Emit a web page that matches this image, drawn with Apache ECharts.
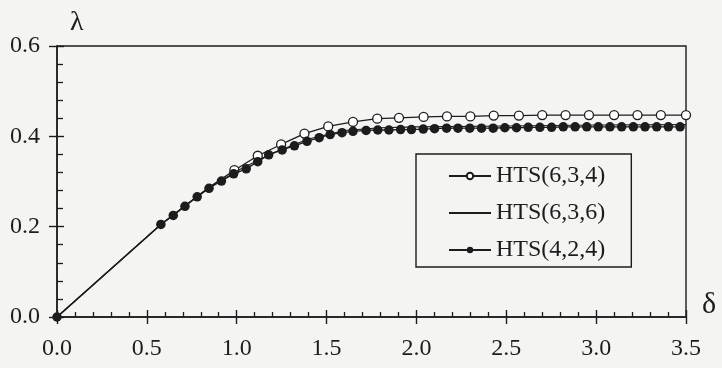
<!DOCTYPE html>
<html>
<head>
<meta charset="utf-8">
<script src="https://cdn.jsdelivr.net/npm/echarts@6/dist/echarts.min.js"></script>
<style>
  html, body { margin: 0; padding: 0; background: #f4f4f3; }
  #chart { width: 722px; height: 368px; }
</style>
</head>
<body>
<div id="chart"></div>
<script>
// ---- data ----
const seriesNames = ['HTS(6,3,4)', 'HTS(6,3,6)', 'HTS(4,2,4)'];

// HTS(6,3,4) — open circles (first points hidden under the filled dots)
const x634 = [0, 0.578, 0.712, 0.846, 0.987, 1.117, 1.247, 1.377, 1.509, 1.647, 1.782, 1.903, 2.04, 2.17, 2.30, 2.43, 2.57, 2.70, 2.83, 2.96, 3.10, 3.23, 3.36, 3.50];
const y634 = [0, 0.205, 0.246, 0.287, 0.325, 0.357, 0.382, 0.406, 0.422, 0.432, 0.439, 0.441, 0.443, 0.444, 0.444, 0.446, 0.446, 0.447, 0.447, 0.447, 0.447, 0.447, 0.447, 0.447];
const hidden634 = [true, true, true, true];

// HTS(6,3,6) — plain line
const x636 = [0, 0.578, 0.85, 1.0, 1.2, 1.4, 1.6, 1.8, 2.0, 2.5, 3.0, 3.5];
const y636 = [0, 0.205, 0.288, 0.323, 0.363, 0.394, 0.413, 0.419, 0.421, 0.423, 0.425, 0.426];

// HTS(4,2,4) — filled dots
const x424 = [0, 0.578, 0.647, 0.712, 0.780, 0.846, 0.915, 0.983, 1.053, 1.117, 1.178, 1.253, 1.321, 1.391, 1.459, 1.520, 1.586, 1.647, 1.720, 1.785, 1.847, 1.912, 1.972, 2.038, 2.101, 2.168, 2.231, 2.297, 2.362, 2.427, 2.492, 2.557, 2.622, 2.687, 2.752, 2.817, 2.883, 2.948, 3.012, 3.077, 3.142, 3.207, 3.272, 3.337, 3.402, 3.467];
const y424 = [0, 0.205, 0.225, 0.245, 0.266, 0.285, 0.301, 0.317, 0.328, 0.344, 0.359, 0.370, 0.379, 0.389, 0.397, 0.404, 0.408, 0.411, 0.413, 0.414, 0.414, 0.415, 0.415, 0.416, 0.417, 0.418, 0.418, 0.418, 0.418, 0.418, 0.419, 0.419, 0.420, 0.420, 0.420, 0.421, 0.421, 0.421, 0.421, 0.421, 0.421, 0.421, 0.421, 0.421, 0.421, 0.421];

const xTickLabels = ['0.0', '0.5', '1.0', '1.5', '2.0', '2.5', '3.0', '3.5'];
const yTickLabels = ['0.0', '0.2', '0.4', '0.6'];
const xName = 'δ';
const yName = 'λ';

// ---- chart ----
const INK = '#1c1c1c';
const FONT = "'Liberation Serif', 'Times New Roman', Times, serif";

function pairs(xs, ys, hidden) {
  return xs.map((x, i) => {
    if (hidden && hidden[i]) return { value: [x, ys[i]], symbol: 'none' };
    return [x, ys[i]];
  });
}

const chart = echarts.init(document.getElementById('chart'), null, { renderer: 'canvas' });

const labelStyle = { color: INK, fontFamily: FONT, fontSize: 24 };
const GRID = { left: 57, right: 36, top: 46, bottom: 51 };
const plotW = 722 - GRID.left - GRID.right;
const plotH = 368 - GRID.top - GRID.bottom;

chart.setOption({
  backgroundColor: '#f4f4f3',
  animation: false,
  grid: Object.assign({
    show: true, borderColor: INK, borderWidth: 1.4, backgroundColor: 'transparent'
  }, GRID),
  xAxis: [
    {
      type: 'value', min: 0, max: 3.5, interval: 0.5, position: 'bottom',
      name: xName, nameLocation: 'end', nameGap: 16,
      nameTextStyle: { color: INK, fontFamily: FONT, fontSize: 30, verticalAlign: 'bottom', padding: [0, 0, -3, 0] },
      axisLine: { show: true, onZero: false, lineStyle: { color: INK, width: 1.5 } },
      axisTick: { show: true, inside: true, length: 7, lineStyle: { color: INK, width: 1.4 } },
      minorTick: { show: true, splitNumber: 5, length: 5, lineStyle: { color: INK, width: 1.3 } },
      splitLine: { show: false },
      axisLabel: Object.assign({ margin: 20, formatter: (v) => xTickLabels[Math.round(v / 0.5)] }, labelStyle)
    },
    {
      // outer halves of the major ticks (top axis moved onto the bottom edge)
      type: 'value', min: 0, max: 3.5, interval: 0.5, position: 'top', offset: -plotH,
      axisLine: { show: false, onZero: false },
      axisTick: { show: true, inside: true, length: 7, lineStyle: { color: INK, width: 1.4 } },
      minorTick: { show: false },
      splitLine: { show: false },
      axisLabel: { show: false }
    }
  ],
  yAxis: [
    {
      type: 'value', min: 0, max: 0.6, interval: 0.2, position: 'left',
      name: yName, nameLocation: 'end', nameGap: 9,
      nameTextStyle: { color: INK, fontFamily: FONT, fontSize: 28, align: 'left', padding: [0, 0, 0, 13] },
      axisLine: { show: true, onZero: false, lineStyle: { color: INK, width: 1.5 } },
      axisTick: { show: true, inside: true, length: 7, lineStyle: { color: INK, width: 1.4 } },
      minorTick: { show: true, splitNumber: 5, length: 6, lineStyle: { color: INK, width: 1.3 } },
      splitLine: { show: false },
      axisLabel: Object.assign({ margin: 17, formatter: (v) => yTickLabels[Math.round(v / 0.2)] }, labelStyle)
    },
    {
      // outer halves of the major ticks (right axis moved onto the left edge)
      type: 'value', min: 0, max: 0.6, interval: 0.2, position: 'right', offset: -plotW,
      axisLine: { show: false, onZero: false },
      axisTick: { show: true, inside: true, length: 8, lineStyle: { color: INK, width: 1.4 } },
      minorTick: { show: false },
      splitLine: { show: false },
      axisLabel: { show: false }
    }
  ],
  legend: {
    orient: 'vertical',
    left: 416, top: 154,
    padding: [10, 26, 5, 32],
    itemGap: 13,
    itemWidth: 42, itemHeight: 8,
    borderColor: INK, borderWidth: 1.4,
    backgroundColor: 'transparent',
    textStyle: { color: INK, fontFamily: FONT, fontSize: 24, lineHeight: 24 },
    data: [
      { name: seriesNames[0] },
      { name: seriesNames[1], itemStyle: { opacity: 0 } },
      { name: seriesNames[2] }
    ]
  },
  series: [
    {
      name: seriesNames[0], type: 'line', xAxisIndex: 0, yAxisIndex: 0,
      data: pairs(x634, y634, hidden634),
      symbol: 'circle', symbolSize: 9, showAllSymbol: true,
      lineStyle: { color: INK, width: 1.3 },
      itemStyle: { color: '#ffffff', borderColor: INK, borderWidth: 1.3 },
      z: 2
    },
    {
      name: seriesNames[1], type: 'line', xAxisIndex: 0, yAxisIndex: 0,
      data: pairs(x636, y636),
      symbol: 'none',
      lineStyle: { color: INK, width: 1.1 },
      itemStyle: { color: INK },
      z: 3
    },
    {
      name: seriesNames[2], type: 'line', xAxisIndex: 0, yAxisIndex: 0,
      data: pairs(x424, y424),
      symbol: 'circle', symbolSize: 9.5, showAllSymbol: true,
      lineStyle: { color: INK, width: 1.3 },
      itemStyle: { color: INK, borderColor: INK, borderWidth: 0 },
      z: 4
    }
  ]
});
</script>
</body>
</html>
